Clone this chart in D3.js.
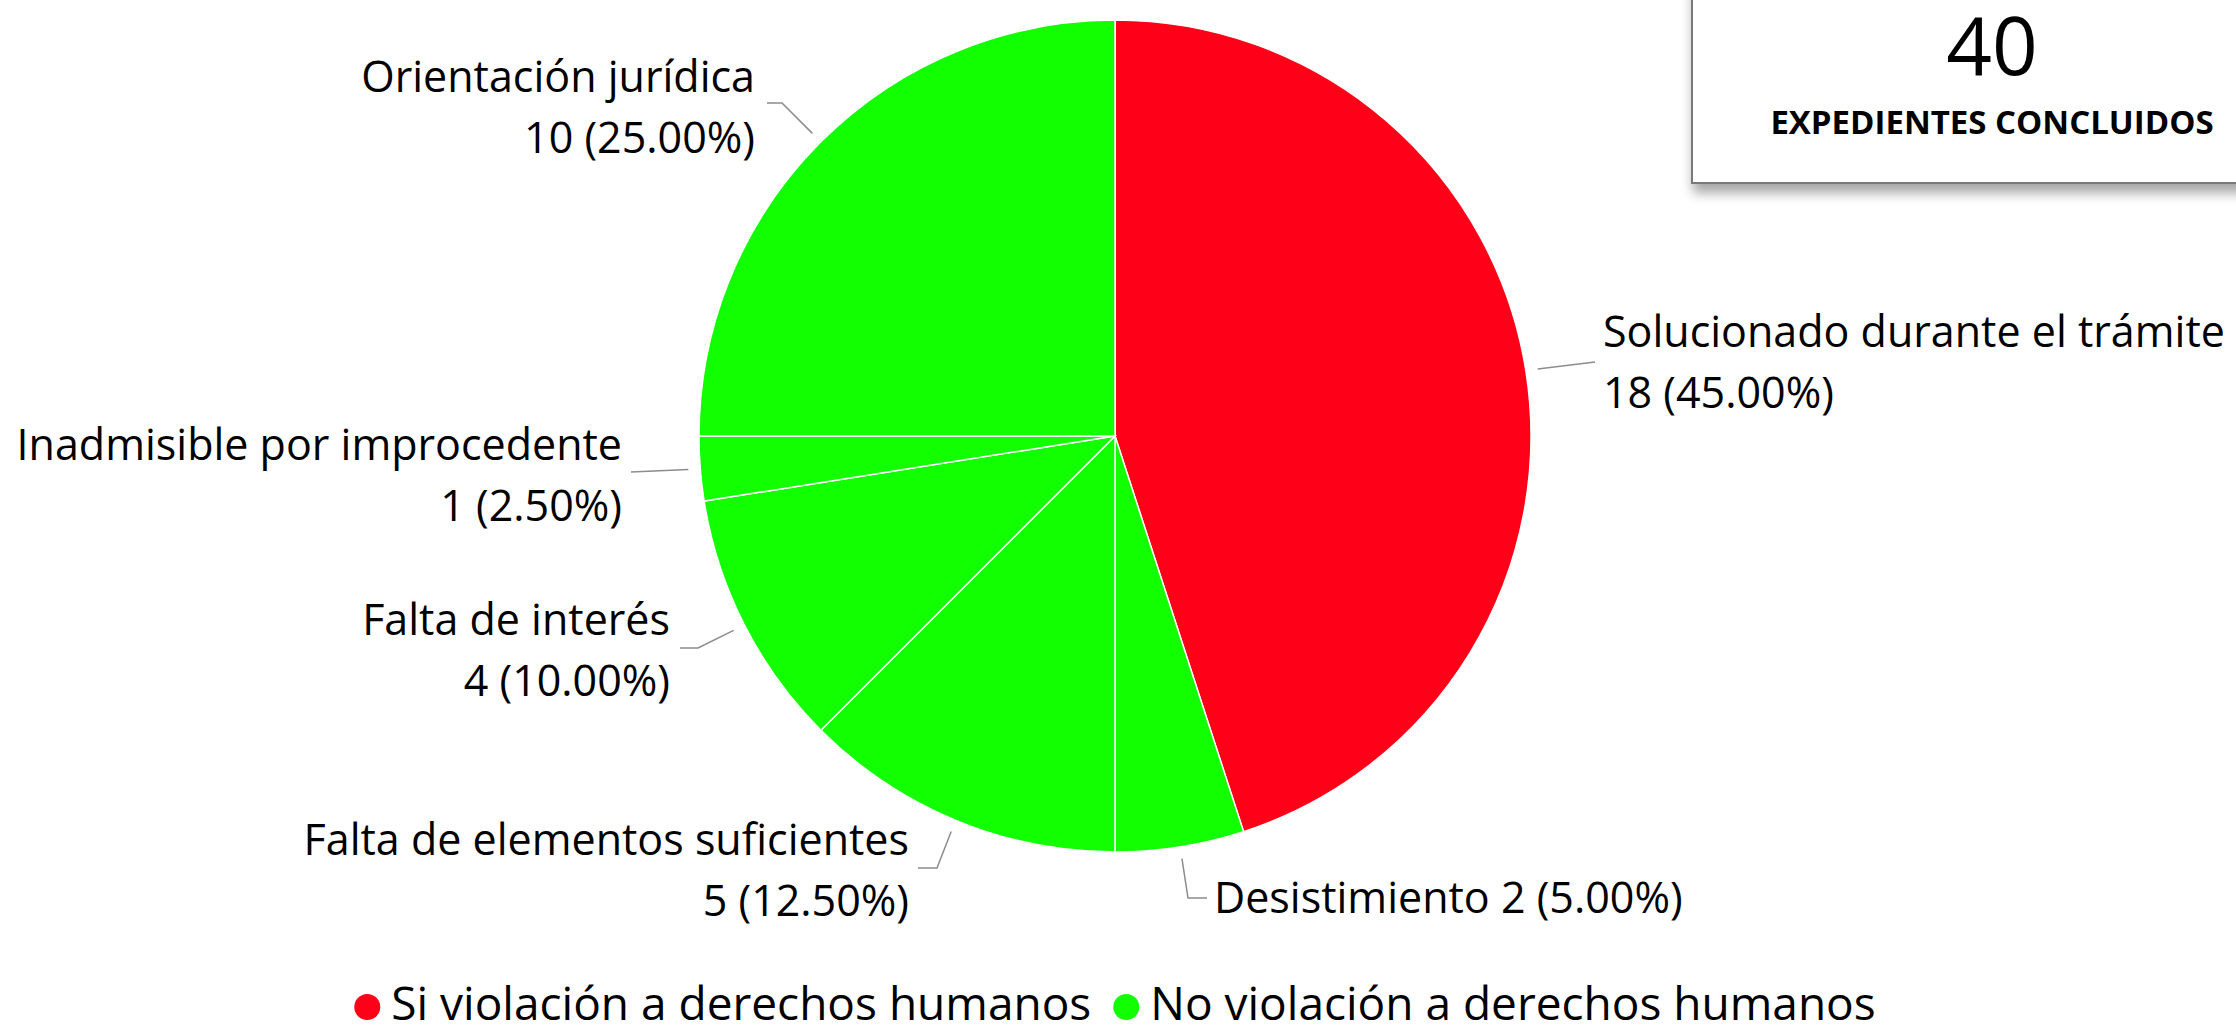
<!DOCTYPE html>
<html>
<head>
<meta charset="utf-8">
<script src="https://cdn.jsdelivr.net/npm/d3@7"></script>
<style>
  body { margin: 0; background: #fff; }
  svg { display: block; font-family: "Open Sans", Lato, sans-serif; }
</style>
</head>
<body>
<div id="chart"></div>
<script>
// data
const categories = [
  "Solucionado durante el trámite",
  "Desistimiento",
  "Falta de elementos suficientes",
  "Falta de interés",
  "Inadmisible por improcedente",
  "Orientación jurídica",
];
const values = [18, 2, 5, 4, 1, 10];
const groupOf = [0, 1, 1, 1, 1, 1];
const groupLabels = ["Si violación a derechos humanos", "No violación a derechos humanos"];
const groupColors = ["#ff0019", "#11ff00"];
const totalText = "EXPEDIENTES CONCLUIDOS";

const width = 2236;
const height = 1034;
const cx = 1115;
const cy = 436;
const radius = 416;

// label placement (offsets from pie centre)
const labelLayout = [
  { anchor: "start", x: 488, y: -89, lines: 2, path: [[480, -74]] },
  { anchor: "start", x: 99, y: 477, lines: 1, path: [[73, 462], [92, 462]] },
  { anchor: "end", x: -206, y: 419, lines: 2, path: [[-178, 432], [-197, 432]] },
  { anchor: "end", x: -445, y: 199, lines: 2, path: [[-417, 212], [-435, 212]] },
  { anchor: "end", x: -493, y: 24, lines: 2, path: [[-484, 36]] },
  { anchor: "end", x: -360, y: -344, lines: 2, path: [[-333, -333], [-348, -333]] },
];

const total = d3.sum(values);
const data = categories.map((c, i) => ({
  name: c,
  value: values[i],
  group: groupOf[i],
  layout: labelLayout[i],
}));

const svg = d3
  .select("#chart")
  .append("svg")
  .attr("width", width)
  .attr("height", height);

const defs = svg.append("defs");
defs
  .append("filter")
  .attr("id", "shadow")
  .attr("x", "-10%")
  .attr("y", "-10%")
  .attr("width", "130%")
  .attr("height", "150%")
  .append("feDropShadow")
  .attr("dx", 2)
  .attr("dy", 9)
  .attr("stdDeviation", 6)
  .attr("flood-color", "#000")
  .attr("flood-opacity", 0.35);

// total box
svg
  .append("rect")
  .attr("x", 1692)
  .attr("y", -20)
  .attr("width", 620)
  .attr("height", 203)
  .attr("fill", "#fff")
  .attr("stroke", "#7a7a7a")
  .attr("stroke-width", 2)
  .attr("filter", "url(#shadow)");

svg
  .append("text")
  .attr("x", 1992)
  .attr("y", 75)
  .attr("text-anchor", "middle")
  .style("font-size", "80px")
  .text(total);

svg
  .append("text")
  .attr("x", 1992)
  .attr("y", 134)
  .attr("text-anchor", "middle")
  .style("font-size", "33px")
  .style("font-weight", "bold")
  .text(totalText);

// pie
const pie = d3.pie().sort(null).value((d) => d.value);
const arcs = pie(data);
const arc = d3.arc().innerRadius(0).outerRadius(radius);
const outer = d3.arc().innerRadius(radius + 12).outerRadius(radius + 12);

const g = svg.append("g").attr("transform", `translate(${cx},${cy})`);

g.selectAll("path.slice")
  .data(arcs)
  .join("path")
  .attr("class", "slice")
  .attr("d", arc)
  .attr("fill", (d) => groupColors[d.data.group])
  .attr("stroke", "#fff")
  .attr("stroke-width", 1.5);

// leader lines
g.selectAll("path.leader")
  .data(arcs)
  .join("path")
  .attr("class", "leader")
  .attr("d", (d) => d3.line()([outer.centroid(d), ...d.data.layout.path]))
  .attr("fill", "none")
  .attr("stroke", "#8c8c8c")
  .attr("stroke-width", 1.5);

const fmt = d3.format(".2f");
const labels = g
  .selectAll("text.label")
  .data(arcs)
  .join("text")
  .attr("class", "label")
  .attr("text-anchor", (d) => d.data.layout.anchor)
  .style("font-size", "43px")
  .attr("fill", "#000");

labels.each(function (d) {
  const l = d.data.layout;
  const num = `${d.data.value} (${fmt((d.data.value / total) * 100)}%)`;
  const lines = l.lines === 1 ? [`${d.data.name} ${num}`] : [d.data.name, num];
  d3.select(this)
    .selectAll("tspan")
    .data(lines)
    .join("tspan")
    .attr("x", l.x)
    .attr("y", (t, i) => l.y + i * 61)
    .text((t) => t);
});

// legend
const legend = svg.append("g").attr("transform", "translate(0,1020)");
const items = legend
  .selectAll("g")
  .data(groupLabels)
  .join("g");
items
  .append("circle")
  .attr("r", 13)
  .attr("cy", -13)
  .attr("fill", (d, i) => groupColors[i]);
items
  .append("text")
  .attr("x", 24)
  .style("font-size", "46px")
  .text((d) => d);

let widths = [];
items.select("text").each(function () {
  widths.push(this.getComputedTextLength() + 24 + 13);
});
const gap = 22;
const legendWidth = d3.sum(widths) + gap;
let lx = cx - legendWidth / 2 + 13;
items.attr("transform", (d, i) => {
  const t = `translate(${lx},0)`;
  lx += widths[i] + gap;
  return t;
});
</script>
</body>
</html>
